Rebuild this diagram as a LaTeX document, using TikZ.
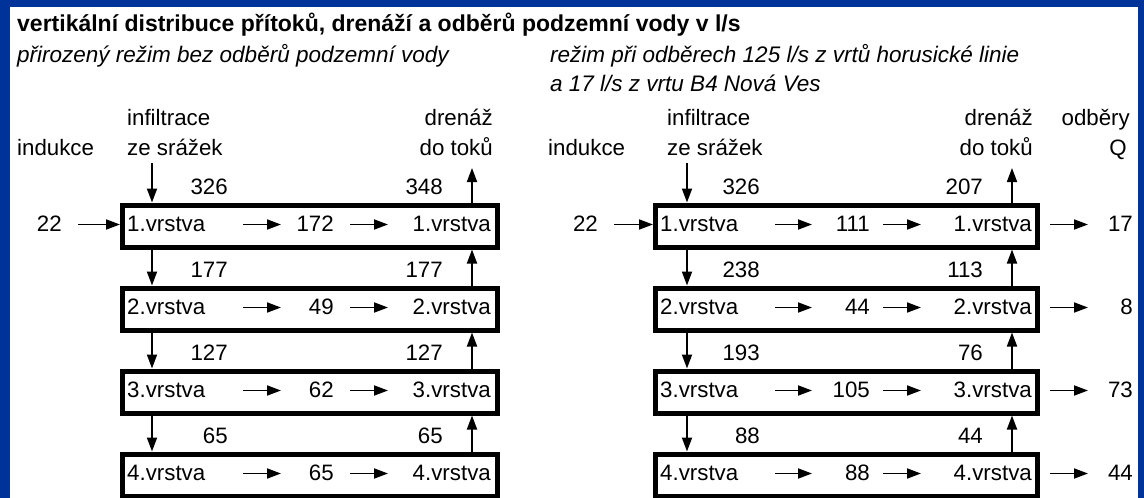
\documentclass[tikz,border=0pt]{standalone}
\usepackage{fontspec}
\setmainfont{Liberation Sans}
\usetikzlibrary{arrows.meta}
\definecolor{frameblue}{RGB}{0,51,153}
\begin{document}
\begin{tikzpicture}[x=1pt,y=-1pt,
  every node/.style={inner sep=0pt,font=\fontsize{22.3}{26}\selectfont},
  titletext/.style={anchor=base west,font=\fontsize{23}{26}\selectfont\bfseries},
  subtext/.style={anchor=base west,font=\fontsize{22.5}{26}\selectfont\itshape},
  lefttext/.style={anchor=base west},
  righttext/.style={anchor=base east},
  layerbox/.style={draw,line width=5pt,minimum height=42pt},
  flow/.style={line width=1.8pt,-{Triangle[length=14pt,width=10pt]}}]
\fill[frameblue] (0,0) rectangle (1144,498);
\fill[white] (10,7) rectangle (1138,498);
\useasboundingbox (0,0) rectangle (1144,498);

\node[titletext] (title) at (17,31) {vertikální distribuce přítoků, drenáží a odběrů podzemní vody v l/s};
\node[subtext] (subL) at (17,62) {přirozený režim bez odběrů podzemní vody};
\node[subtext] (subR1) at (550,62) {režim při odběrech 125 l/s z vrtů horusické linie};
\node[subtext] (subR2) at (550,91) {a 17 l/s z vrtu B4 Nová Ves};

% headers left
\node[lefttext] (indL) at (17,155) {indukce};
\node[lefttext] (infL) at (127,125) {infiltrace};
\node[lefttext] (zeL) at (127,155) {ze srážek};
\node[righttext] (drL) at (493,125) {drenáž};
\node[righttext] (doL) at (493,155) {do toků};
% headers right
\node[lefttext] (indR) at (548,155) {indukce};
\node[lefttext] (infR) at (667,125) {infiltrace};
\node[lefttext] (zeR) at (667,155) {ze srážek};
\node[righttext] (drR) at (1033,125) {drenáž};
\node[righttext] (doR) at (1033,155) {do toků};
\node[righttext] (odR) at (1130,125) {odběry};
\node[righttext] (QR) at (1127,155) {Q};

\coordinate (LinfS) at (152,163);
\coordinate (LdrE) at (472,168);
\coordinate (RinfS) at (687,163);
\coordinate (RdrE) at (1012,168);

% left panel
\foreach \mid/\dn/\up [count=\i] in {172/326/348,49/177/177,62/127/127,65/65/65}{
  \pgfmathsetmacro\y{226+83*(\i-1)}
  \node[layerbox,minimum width=375pt] (L\i) at (310,\y) {};
  \node[lefttext] (La\i) at (127,{\y+5.5}) {\i.vrstva};
  \node[righttext] (Lm\i) at (334,{\y+5.5}) {\mid};
  \node[righttext] (Lb\i) at (491,{\y+5.5}) {\i.vrstva};
  \node[righttext] (Ld\i) at (228,{\y-32}) {\dn};
  \node[righttext] (Lu\i) at (443,{\y-32}) {\up};
  \coordinate (Lp\i) at (243,{\y-1.5});
  \coordinate (Lq\i) at (281,{\y-1.5});
  \coordinate (Lr\i) at (350,{\y-1.5});
  \coordinate (Ls\i) at (388,{\y-1.5});
  \draw[flow] (Lp\i) -- (Lq\i);
  \draw[flow] (Lr\i) -- (Ls\i);
}
\draw[flow] (LinfS) -- (LinfS |- L1.north);
\draw[flow] (LdrE |- L1.north) -- (LdrE);
\foreach \i/\j in {1/2,2/3,3/4}{
  \draw[flow] (LinfS |- L\i.south) -- (LinfS |- L\j.north);
  \draw[flow] (LdrE |- L\j.north) -- (LdrE |- L\i.south);
}
\node[righttext] (Lin) at (62,231.5) {22};
\coordinate (LinA) at (78,224.5);
\draw[flow] (LinA) -- (LinA -| L1.west);

% right panel
\foreach \mid/\dn/\up/\q [count=\i] in {111/326/207/17,44/238/113/8,105/193/76/73,88/88/44/44}{
  \pgfmathsetmacro\y{226+83*(\i-1)}
  \node[layerbox,minimum width=382pt] (R\i) at (846.5,\y) {};
  \node[lefttext] (Ra\i) at (660,{\y+5.5}) {\i.vrstva};
  \node[righttext] (Rm\i) at (870,{\y+5.5}) {\mid};
  \node[righttext] (Rb\i) at (1032,{\y+5.5}) {\i.vrstva};
  \node[righttext] (Rd\i) at (760,{\y-32}) {\dn};
  \node[righttext] (Ru\i) at (983,{\y-32}) {\up};
  \node[righttext] (Rq\i) at (1133,{\y+5.5}) {\q};
  \coordinate (Rp\i) at (775,{\y-1.5});
  \coordinate (Rq\i a) at (812,{\y-1.5});
  \coordinate (Rr\i) at (883,{\y-1.5});
  \coordinate (Rs\i) at (921,{\y-1.5});
  \coordinate (Rt\i) at (1050,{\y-1.5});
  \coordinate (Rv\i) at (1088,{\y-1.5});
  \draw[flow] (Rp\i) -- (Rq\i a);
  \draw[flow] (Rr\i) -- (Rs\i);
  \draw[flow] (Rt\i) -- (Rv\i);
}
\draw[flow] (RinfS) -- (RinfS |- R1.north);
\draw[flow] (RdrE |- R1.north) -- (RdrE);
\foreach \i/\j in {1/2,2/3,3/4}{
  \draw[flow] (RinfS |- R\i.south) -- (RinfS |- R\j.north);
  \draw[flow] (RdrE |- R\j.north) -- (RdrE |- R\i.south);
}
\node[righttext] (Rin) at (598,231.5) {22};
\coordinate (RinA) at (614,224.5);
\draw[flow] (RinA) -- (RinA -| R1.west);
\end{tikzpicture}
\end{document}
